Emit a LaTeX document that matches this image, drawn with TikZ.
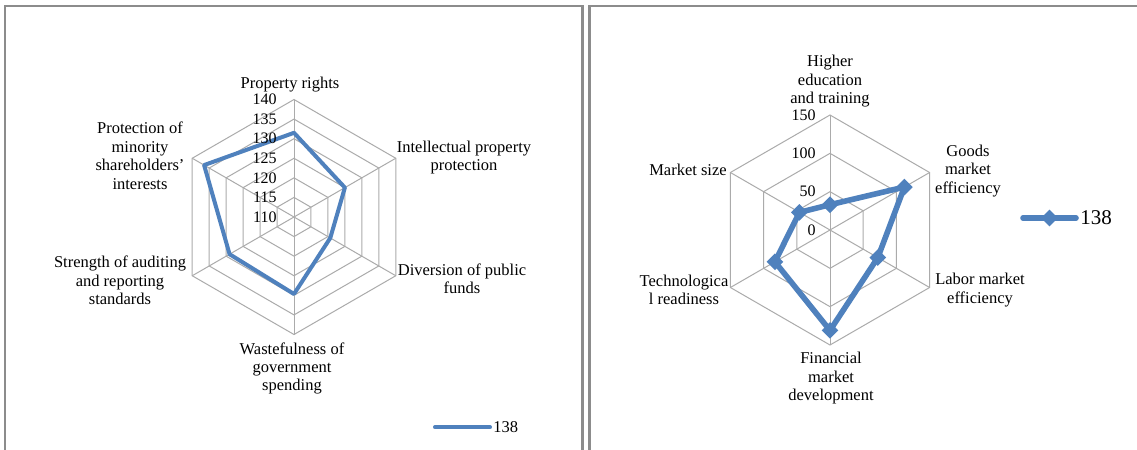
\documentclass[tikz,border=0pt]{standalone}
\usepackage{fontspec}
\setmainfont{Liberation Serif}
\usetikzlibrary{shapes.geometric}
\definecolor{xlblue}{HTML}{4F81BD}
\definecolor{framegray}{HTML}{8C8C8C}
\definecolor{gridgray}{HTML}{ABABAB}
\begin{document}
\begin{tikzpicture}[x=0.5pt,y=-0.5pt,
  lab/.style={font=\fontsize{8.25pt}{9.2pt}\selectfont, align=center, inner sep=0pt},
  tick/.style={font=\fontsize{8pt}{9pt}\selectfont, anchor=east, inner sep=0pt},
  frameline/.style={draw=framegray, line width=1.3pt},
  gridline/.style={draw=gridgray, line width=0.5pt},
  seriesA/.style={draw=xlblue, line width=2pt, line join=round},
  seriesB/.style={draw=xlblue, line width=2.8pt, line join=round},
  dmark/.style={diamond, fill=xlblue, inner sep=0pt, minimum size=8.5pt}]
\useasboundingbox (0,0) rectangle (1137,450);
\fill[white] (0,0) rectangle (1137,450);
% panel frames
\draw[frameline] (5,452) -- (5,6) -- (582.7,6) -- (582.7,452);
\draw[frameline] (589.3,452) -- (589.3,6) -- (1139,6);

% ---------------- left radar ----------------
\begin{scope}[shift={(294,217)}, x=0.5pt, y=0.5pt]
  \foreach \k in {1,...,6}{
    \pgfmathsetmacro\rr{\k*117.5/6}
    \draw[gridline] (90:\rr) -- (30:\rr) -- (-30:\rr) -- (-90:\rr) -- (-150:\rr) -- (150:\rr) -- cycle;
  }
  \foreach \a in {90,30,-30,-90,-150,150}{
    \draw[gridline] (0,0) -- (\a:117.5);
  }
  \draw[seriesA] (90:84.2) -- (30:58.75) -- (-30:41.9) -- (-90:77) -- (-150:74.4) -- (150:103.8) -- cycle;
\end{scope}
\foreach \v/\k in {110/0,115/1,120/2,125/3,130/4,135/5,140/6}{
  \node[tick] (tA\v) at (277,{217-\k*117.5/6}) {\v};
}
\node[lab] (lPR) at (290,85) {Property rights};
\node[lab] (lIP) at (464,157.5) {Intellectual property\\protection};
\node[lab] (lDV) at (462,279) {Diversion of public\\funds};
\node[lab] (lWS) at (292,368.5) {Wastefulness of\\government\\spending};
\node[lab] (lSA) at (120,280.5) {Strength of auditing\\and reporting\\standards};
\node[lab] (lPM) at (140,155.8) {Protection of\\minority\\shareholders'\\interests};
% left legend
\coordinate (legA1) at (435,427.3);
\coordinate (legA2) at (490,427.3);
\draw[seriesA, line cap=round] (legA1) -- (legA2);
\node[lab, anchor=west] (legAt) at (493,427.3) {138};

% ---------------- right radar ----------------
\begin{scope}[shift={(830,230)}, x=0.5pt, y=0.5pt]
  \foreach \k in {1,2,3}{
    \pgfmathsetmacro\rr{\k*115/3}
    \draw[gridline] (90:\rr) -- (30:\rr) -- (-30:\rr) -- (-90:\rr) -- (-150:\rr) -- (150:\rr) -- cycle;
  }
  \foreach \a in {90,30,-30,-90,-150,150}{
    \draw[gridline] (0,0) -- (\a:115);
  }
  \draw[seriesB] (90:25.3) -- (30:85.9) -- (-30:55.2) -- (-90:100.4) -- (-150:63.6) -- (150:35.3) -- cycle;
  \node[dmark] (pHE) at (90:25.3) {};
  \node[dmark] (pGM) at (30:85.9) {};
  \node[dmark] (pLM) at (-30:55.2) {};
  \node[dmark] (pFM) at (-90:100.4) {};
  \node[dmark] (pTR) at (-150:63.6) {};
  \node[dmark] (pMS) at (150:35.3) {};
\end{scope}
\foreach \v/\k in {0/0,50/1,100/2,150/3}{
  \node[tick] (tB\v) at (816,{230-\k*115/3}) {\v};
}
\node[lab] (lHE) at (830,81.3) {Higher\\education\\and training};
\node[lab] (lGM) at (968,170.7) {Goods\\market\\efficiency};
\node[lab] (lLM) at (980,290) {Labor market\\efficiency};
\node[lab] (lFM) at (831,378.3) {Financial\\market\\development};
\node[lab] (lTR) at (684,289.7) {Technologica\\l readiness};
\node[lab] (lMS) at (688,170) {Market size};
% right legend
\coordinate (legB1) at (1023,218);
\coordinate (legB2) at (1076,218);
\draw[seriesB, line cap=round] (legB1) -- (legB2);
\node[dmark] (legBm) at (1049.5,218) {};
\node[font=\fontsize{10.5pt}{12pt}\selectfont, anchor=west, inner sep=0pt] (legBt) at (1080,218) {138};
\end{tikzpicture}
\end{document}
